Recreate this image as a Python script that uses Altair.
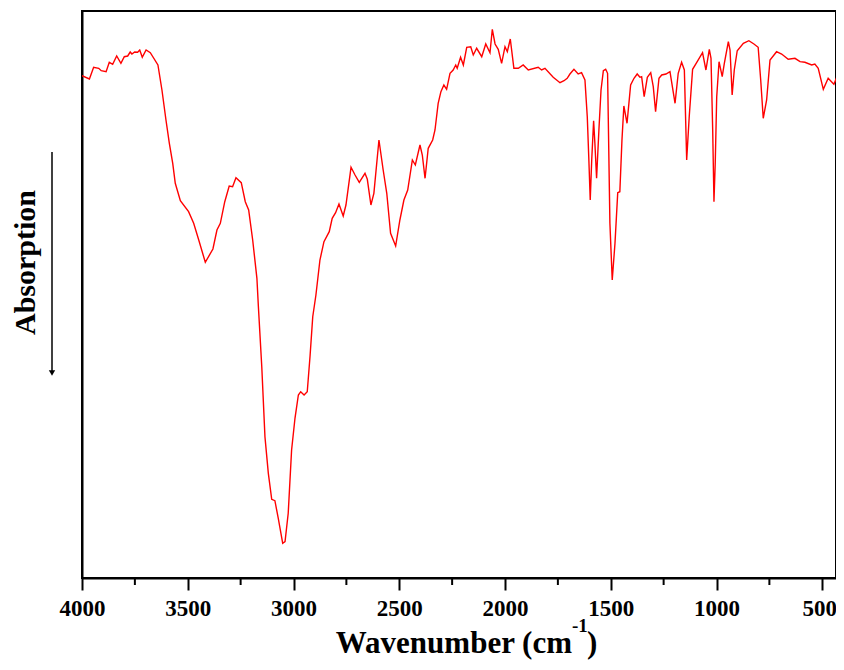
import altair as alt
import pandas as pd

# FTIR spectrum (arbitrary transmittance units)
wavenumber = [
    4000, 3965, 3945, 3921, 3909, 3886, 3871, 3855, 3836, 3816, 3800, 3784, 3772, 3764,
    3751, 3737, 3727, 3715, 3697, 3677, 3641, 3622, 3603, 3587, 3571, 3559, 3535, 3496,
    3472, 3448, 3417, 3381, 3362, 3346, 3325, 3304, 3288, 3272, 3247, 3228, 3212, 3193,
    3173, 3166, 3150, 3135, 3119, 3103, 3088, 3072, 3051, 3040, 3025, 3009, 2993, 2977,
    2966, 2950, 2935, 2922, 2909, 2894, 2875, 2856, 2831, 2817, 2801, 2785, 2765, 2752,
    2728, 2709, 2689, 2662, 2651, 2634, 2620, 2596, 2576, 2559, 2541, 2517, 2497, 2478,
    2460, 2438, 2424, 2402, 2391, 2378, 2363, 2342, 2331, 2316, 2303, 2289, 2276, 2260,
    2245, 2233, 2226, 2210, 2197, 2181, 2162, 2150, 2134, 2110, 2091, 2071, 2060, 2047,
    2032, 2016, 2000, 1989, 1975, 1958, 1937, 1914, 1890, 1843, 1827, 1811, 1772, 1740,
    1721, 1706, 1693, 1674, 1654, 1638, 1622, 1611, 1604, 1597, 1590, 1581, 1575, 1567,
    1556, 1546, 1535, 1524, 1515, 1504, 1493, 1480, 1467, 1457, 1447, 1438, 1423, 1406,
    1390, 1375, 1362, 1354, 1342, 1327, 1311, 1299, 1288, 1272, 1259, 1239, 1220, 1196,
    1181, 1165, 1152, 1141, 1129, 1113, 1094, 1066, 1050, 1034, 1026, 1018, 1012, 1006,
    999, 988, 973, 963, 944, 936, 926, 916, 902, 873, 847, 823, 803, 791, 779, 763, 747,
    716, 692, 661, 629, 605, 582, 550, 535, 519, 495, 472, 445, 424, 408, 400,
]
transmittance = [
    502.3, 499.0, 510.7, 509.7, 507.3, 506.3, 515.7, 513.7, 522.0, 514.7, 521.3, 522.0, 526.0, 524.0,
    526.0, 525.7, 528.0, 520.7, 528.0, 525.3, 513.0, 488.0, 458.0, 434.7, 414.7, 394.7, 377.3, 366.3,
    354.7, 338.0, 315.7, 329.0, 348.0, 354.7, 376.3, 392.0, 391.3, 400.3, 395.3, 376.3, 368.0, 338.0,
    299.7, 271.3, 211.3, 141.3, 104.7, 78.7, 77.3, 59.7, 34.7, 36.3, 64.7, 128.0, 159.7, 183.0,
    186.3, 183.0, 186.3, 221.3, 261.3, 283.0, 318.0, 336.3, 346.3, 359.7, 365.3, 374.0, 362.0, 373.0,
    410.7, 403.0, 395.7, 404.7, 398.7, 373.0, 384.7, 438.0, 408.0, 384.7, 344.7, 332.0, 358.0, 378.0,
    388.0, 418.0, 413.0, 433.0, 423.0, 399.7, 429.7, 438.0, 448.0, 474.7, 486.3, 493.0, 488.7, 504.7,
    508.0, 513.0, 509.7, 520.7, 513.0, 530.7, 531.3, 523.0, 529.7, 521.3, 534.0, 525.3, 548.7, 534.0,
    528.7, 514.7, 531.3, 526.3, 539.0, 509.7, 509.7, 513.0, 508.0, 510.7, 508.0, 509.7, 500.7, 495.3,
    497.3, 499.7, 504.0, 508.7, 504.0, 505.3, 498.0, 461.3, 421.3, 378.0, 418.0, 457.3, 434.7, 399.7,
    448.0, 488.0, 507.3, 508.7, 504.7, 354.7, 298.0, 334.7, 385.3, 386.3, 438.0, 472.0, 454.7, 493.0,
    499.7, 504.0, 500.7, 501.3, 481.3, 500.7, 505.3, 491.3, 466.3, 499.7, 503.0, 504.0, 506.3, 474.7,
    504.7, 515.7, 508.0, 418.0, 461.3, 508.7, 515.3, 525.3, 508.0, 528.7, 519.7, 448.0, 376.3, 414.7,
    481.3, 516.3, 501.3, 514.7, 536.3, 528.0, 483.0, 508.0, 527.3, 534.7, 537.3, 534.0, 530.7, 498.0, 459.7, 478.0, 518.0,
    526.3, 524.0, 518.7, 519.7, 516.3, 515.7, 513.0, 514.0, 509.7, 488.7, 499.7, 493.7, 504.7, 511.3, 512.0,
]

major_ticks = [4000, 3500, 3000, 2500, 2000, 1500, 1000, 500]
minor_ticks = [3750, 3250, 2750, 2250, 1750, 1250, 750]

FONT = "Liberation Serif"
W, H = 754, 567

df = pd.DataFrame({"wn": wavenumber, "t": transmittance})
minor_df = pd.DataFrame({"wn": minor_ticks})

x_scale = alt.Scale(domain=[435, 4000], reverse=True, nice=False, zero=False)
y_scale = alt.Scale(domain=[0, 567], nice=False, zero=False)

line = alt.Chart(df).mark_line(color="#ff0000", strokeWidth=1.4, clip=True).encode(
    x=alt.X("wn:Q", scale=x_scale,
            axis=alt.Axis(values=major_ticks, title=None, grid=False, format="d",
                          labelFont=FONT, labelFontSize=23, labelFontWeight="bold",
                          labelColor="black", labelFlush=False, labelOverlap=False,
                          labelOffset={"condition": {"test": "datum.value === 500", "value": -3},
                                       "value": 0},
                          labelPadding=7, tickSize=12, tickWidth=2, tickColor="black",
                          domainColor="black", domainWidth=2)),
    y=alt.Y("t:Q", scale=y_scale,
            axis=alt.Axis(title="Absorption", labels=False, ticks=False, grid=False,
                          domainColor="black", domainWidth=2,
                          titleFont=FONT, titleFontSize=30, titleFontWeight="bold",
                          titleColor="black", titleX=-57, titleY=251,
                          titleAngle=-90, titleBaseline="middle", titleAlign="center")),
)

minor = alt.Chart(minor_df).mark_rule(color="black", strokeWidth=2).encode(
    x=alt.X("wn:Q", scale=x_scale),
    y=alt.value(H),
    y2=alt.value(H + 7),
)

arrow_line = alt.Chart(pd.DataFrame({"a": [0]})).mark_rule(color="black", strokeWidth=1.5).encode(
    x=alt.value(-30), y=alt.value(141), y2=alt.value(360)
)
arrow_head = alt.Chart(pd.DataFrame({"a": [0]})).mark_point(
    shape="triangle-down", filled=True, color="black", size=40, opacity=1
).encode(x=alt.value(-30), y=alt.value(362))

title_main = alt.Chart(pd.DataFrame({"s": ["Wavenumber (cm"]})).mark_text(
    font=FONT, fontSize=31, fontWeight="bold", color="black", align="right", baseline="alphabetic"
).encode(text="s:N", x=alt.value(490), y=alt.value(642))
title_sup = alt.Chart(pd.DataFrame({"s": ["-1"]})).mark_text(
    font=FONT, fontSize=19, fontWeight="bold", color="black", align="left", baseline="alphabetic"
).encode(text="s:N", x=alt.value(490), y=alt.value(621))
title_close = alt.Chart(pd.DataFrame({"s": [")"]})).mark_text(
    font=FONT, fontSize=31, fontWeight="bold", color="black", align="left", baseline="alphabetic"
).encode(text="s:N", x=alt.value(505), y=alt.value(642))

chart = alt.layer(line, minor, arrow_line, arrow_head, title_main, title_sup, title_close).properties(
    width=W, height=H,
    autosize=alt.AutoSizeParams(type="none"),
    padding={"left": 74, "top": 3, "right": 0, "bottom": 83},
    background="white",
).configure_view(stroke="black", strokeWidth=2)

chart.save("out.html", embed_options={"renderer": "svg", "actions": False})
